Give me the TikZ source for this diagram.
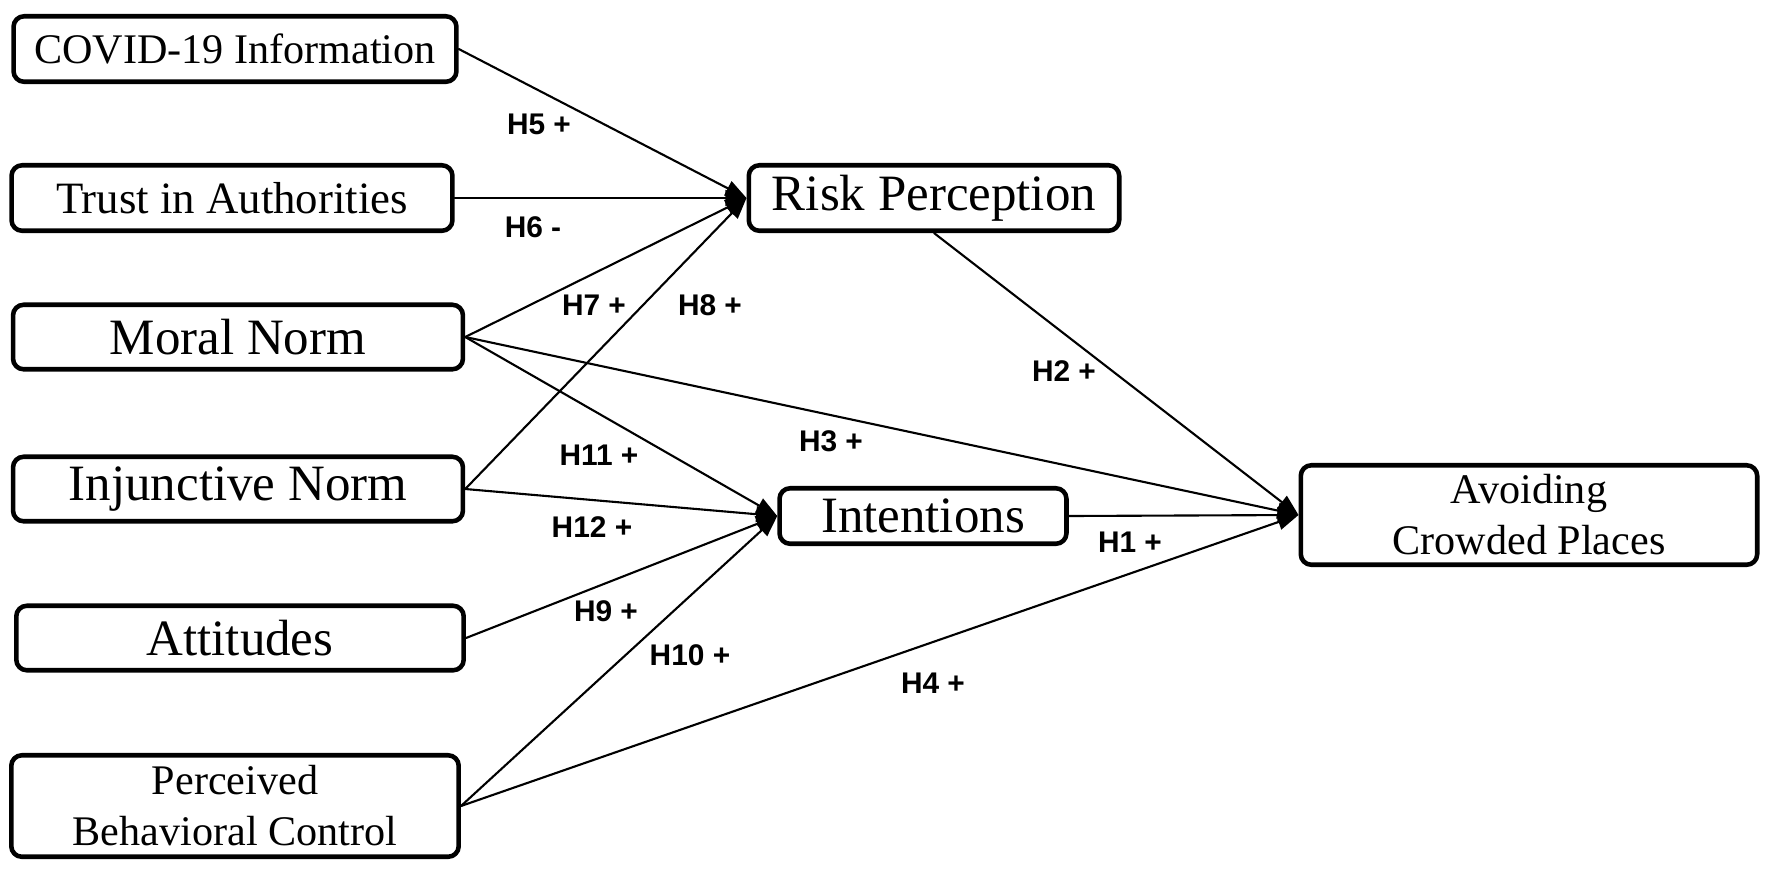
\documentclass[tikz,border=0pt]{standalone}
\usepackage{fontspec}
\setmainfont{Liberation Serif}
\setsansfont{Liberation Sans}
\usetikzlibrary{arrows.meta}

\tikzset{
  box/.style={draw, line width=2.6pt, rounded corners=6pt, inner sep=0pt, align=center},
  smalltxt/.style={font=\fontsize{24}{29}\selectfont},
  bigtxt/.style={font=\fontsize{29}{34}\selectfont},
  hyp/.style={font=\fontsize{17}{20}\sffamily\bfseries\selectfont},
  link/.style={->, line width=1.2pt}
}

\begin{document}
\begin{tikzpicture}[line cap=round,line join=round,>={Triangle[length=12pt,width=9pt]},x=0.02cm,y=-0.02cm]
\useasboundingbox (0,0) rectangle (1772,877);

% predictors
\node[box,smalltxt,minimum width=8.86cm,minimum height=1.31cm] (covid) at (235,49) {COVID-19 Information};
\node[box,font=\fontsize{25.5}{30}\selectfont,minimum width=8.82cm,minimum height=1.31cm] (trust) at (232,198) {Trust in Authorities};
\node[box,bigtxt,minimum width=9.0cm,minimum height=1.29cm] (moral) at (238,337) {Moral Norm};
\node[box,bigtxt,minimum width=9.0cm,minimum height=1.29cm] (injunct) at (238,489) {Injunctive Norm};
\node[box,bigtxt,minimum width=8.95cm,minimum height=1.29cm] (attit) at (240,638) {Attitudes};
\node[box,smalltxt,minimum width=8.95cm,minimum height=2.03cm] (pbc) at (235,806) {Perceived\\Behavioral Control};

% mediators and outcome
\node[box,bigtxt,minimum width=7.41cm,minimum height=1.31cm] (risk) at (934,198) {Risk Perception};
\node[box,bigtxt,minimum width=5.74cm,minimum height=1.11cm] (intent) at (923,516) {Intentions};
\node[box,smalltxt,minimum width=9.13cm,minimum height=1.99cm] (avoid) at (1529,515) {Avoiding\\Crowded Places};

\draw[link] (covid.east) -- (risk.west);
\draw[link] (trust.east) -- (risk.west);
\draw[link] (moral.east) -- (risk.west);
\draw[link] (injunct.east) -- (risk.west);
\draw[link] (moral.east) -- (intent.west);
\draw[link] (injunct.east) -- (intent.west);
\draw[link] (attit.east) -- (intent.west);
\draw[link] (pbc.east) -- (intent.west);
\draw[link] (moral.east) -- (avoid.west);
\draw[link] (pbc.east) -- (avoid.west);
\draw[link] (intent.east) -- (avoid.west);
\draw[link] (risk.south) -- (avoid.west);

% hypotheses
\node[hyp] (h5) at (539,124) {H5 +};
\node[hyp] (h6) at (533,227) {H6 -};
\node[hyp] (h7) at (594,305) {H7 +};
\node[hyp] (h8) at (710,305) {H8 +};
\node[hyp] (h2) at (1064,371) {H2 +};
\node[hyp] (h3) at (831,441) {H3 +};
\node[hyp] (h11) at (599,455) {H11 +};
\node[hyp] (h12) at (592,527) {H12 +};
\node[hyp] (h1) at (1130,542) {H1 +};
\node[hyp] (h9) at (606,611) {H9 +};
\node[hyp] (h10) at (690,655) {H10 +};
\node[hyp] (h4) at (933,683) {H4 +};
\end{tikzpicture}
\end{document}
